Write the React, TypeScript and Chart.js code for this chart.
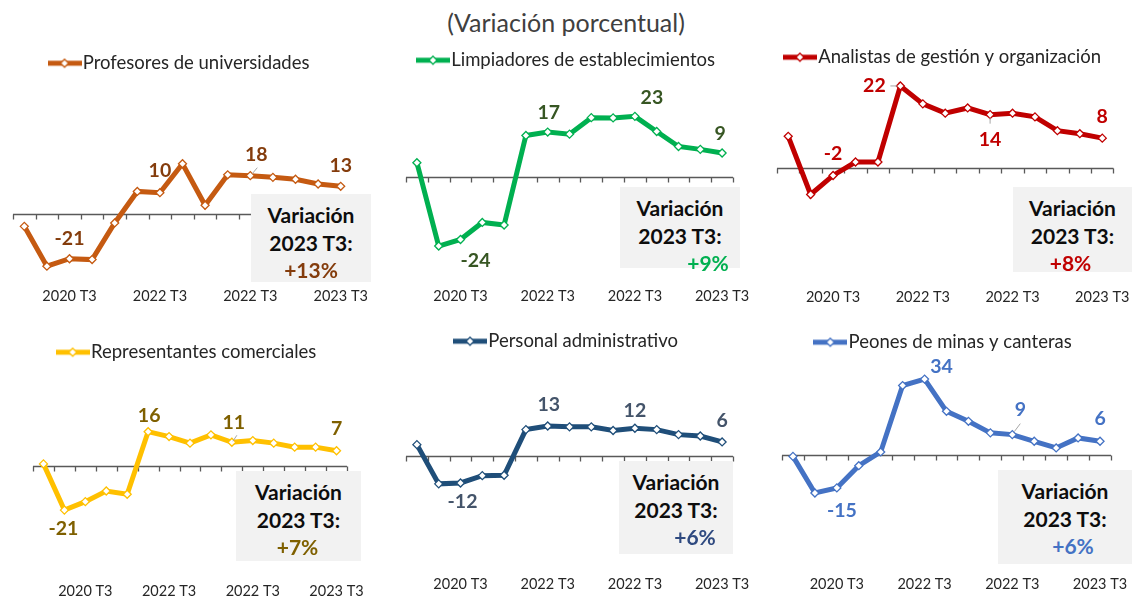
import React, { useEffect, useRef } from 'react';
import { Chart, registerables } from 'chart.js';

Chart.register(...registerables);

// ---------- DATA ----------
const quarterLabels = ['', '', '2020 T3', '', '', '', '2022 T3', '', '', '', '2022 T3', '', '', '', '2023 T3'];

const profesoresValues = [-5.8, -24.5, -21, -21.4, -4.2, 10.6, 10, 23.6, 4.1, 18.4, 18, 17.2, 16.3, 14.1, 13];
const limpiadoresValues = [5.3, -26.5, -24, -17.5, -18.5, 15.7, 17, 16.2, 22.5, 22.4, 23, 17.2, 11.5, 10.4, 9];
const analistasValues = [8.5, -7.1, -2, 1.6, 1.6, 22, 17.2, 14.7, 16.1, 14.3, 14.7, 13.7, 10, 9.2, 8];
const representantesValues = [0.8, -21, -17, -12, -13.5, 16, 13.7, 10.6, 14.5, 11, 11.8, 10.6, 8.7, 8.7, 7];
const administrativoValues = [4.8, -12.4, -12, -8.8, -8.6, 11.4, 13, 12.6, 12.6, 11, 12, 11.4, 9.2, 8.6, 6];
const peonesValues = [-0.8, -17.3, -15, -5, 1.2, 31.1, 34, 19.5, 15, 9.8, 9, 6, 3, 7.5, 6];

const seriesNames = [
  'Profesores de universidades',
  'Limpiadores de establecimientos',
  'Analistas de gestión y organización',
  'Representantes comerciales',
  'Personal administrativo',
  'Peones de minas y canteras',
];
const latestChange = ['+13%', '+9%', '+8%', '+7%', '+6%', '+6%'];
const labeledPoints = [
  [2, 6, 10, 14],
  [2, 6, 10, 14],
  [2, 5, 9, 14],
  [1, 5, 9, 14],
  [2, 6, 10, 14],
  [2, 6, 10, 14],
];
const titleText = '(Variación porcentual)';
const boxLine1 = 'Variación';
const boxLine2 = '2023 T3:';

// ---------- STYLE / LAYOUT ----------
const FONT = 'Lato, "Open Sans", sans-serif';
const LEGEND_SIZE = 18.5;

type Panel = {
  values: number[];
  color: string;
  labelColor: string;
  pctColor: string;
  left: number; top: number; width: number; labelY: number;
  padL: number; padR: number;
  zeroY: number; pxPerUnit: number;
  offsets: [number, number][];
  leaders: { idx: number; from: [number, number]; to: [number, number] }[];
  box: { left: number; top: number; w: number; h: number; pctShift: number };
};

const panels: Panel[] = [
  {
    values: profesoresValues, color: '#C55A11', labelColor: '#843C0C', pctColor: '#843C0C',
    left: 0, top: 44, width: 377, labelY: 297, padL: 13, padR: 25, zeroY: 214, pxPerUnit: 2.13,
    offsets: [[0, -20], [0, -22], [6, -21], [0, -21]],
    leaders: [{ idx: 10, from: [7, -8], to: [2, -2] }],
    box: { left: 251, top: 194, w: 120, h: 88, pctShift: 0 },
  },
  {
    values: limpiadoresValues, color: '#00B050', labelColor: '#375623', pctColor: '#00B050',
    left: 378, top: 41.4, width: 377, labelY: 297, padL: 28, padR: 22, zeroY: 177, pxPerUnit: 2.62,
    offsets: [[15, 21], [1, -19], [17, -19], [-2, -19]],
    leaders: [],
    box: { left: 620, top: 187, w: 120, h: 81, pctShift: 28 },
  },
  {
    values: analistasValues, color: '#C00000', labelColor: '#C00000', pctColor: '#C00000',
    left: 755, top: 38, width: 377, labelY: 298, padL: 22, padR: 17, zeroY: 168, pxPerUnit: 3.73,
    offsets: [[0, -22], [-26, 0], [0, 25], [0, -21]],
    leaders: [{ idx: 5, from: [-10, 0], to: [-3, 0] }, { idx: 9, from: [0, 3], to: [0, 9] }],
    box: { left: 1013, top: 187, w: 119, h: 85, pctShift: -2 },
  },
  {
    values: representantesValues, color: '#FFC000', labelColor: '#7F6000', pctColor: '#7F6000',
    left: 0, top: 333.4, width: 377, labelY: 592, padL: 33, padR: 30, zeroY: 466, pxPerUnit: 2.12,
    offsets: [[-1, 19], [1, -16], [2, -20], [0, -22]],
    leaders: [{ idx: 9, from: [5, -7], to: [1, -1] }],
    box: { left: 236, top: 471, w: 125, h: 90, pctShift: -1 },
  },
  {
    values: administrativoValues, color: '#1F4E79', labelColor: '#44546A', pctColor: '#2F4A80',
    left: 378, top: 322.4, width: 377, labelY: 585, padL: 28, padR: 22, zeroY: 456, pxPerUnit: 2.28,
    offsets: [[2, 19], [1, -21], [0, -18], [0, -21]],
    leaders: [],
    box: { left: 619, top: 461, w: 114, h: 93, pctShift: 19 },
  },
  {
    values: peonesValues, color: '#4472C4', labelColor: '#4472C4', pctColor: '#4472C4',
    left: 755, top: 323.4, width: 377, labelY: 585, padL: 27, padR: 21, zeroY: 455, pxPerUnit: 2.22,
    offsets: [[5, 23], [17, -12], [8, -25], [0, -23]],
    leaders: [{ idx: 10, from: [8, -11], to: [2, -3] }],
    box: { left: 998, top: 470, w: 134, h: 94, pctShift: 8 },
  },
];

function makeMarker(color: string): HTMLCanvasElement {
  const c = document.createElement('canvas');
  c.width = 34;
  c.height = 12;
  const g = c.getContext('2d')!;
  g.strokeStyle = color;
  g.lineWidth = 5;
  g.beginPath();
  g.moveTo(0, 6);
  g.lineTo(34, 6);
  g.stroke();
  g.fillStyle = '#ffffff';
  g.lineWidth = 1.3;
  g.beginPath();
  g.moveTo(17, 2);
  g.lineTo(21, 6);
  g.lineTo(17, 10);
  g.lineTo(13, 6);
  g.closePath();
  g.fill();
  g.stroke();
  return c;
}

function ChartPanel({ idx }: { idx: number }) {
  const ref = useRef<HTMLCanvasElement | null>(null);
  const p = panels[idx];
  const height = Math.round(p.labelY - p.top + 12);

  useEffect(() => {
    if (!ref.current) return;
    const marker = makeMarker(p.color);
    const labeled = labeledPoints[idx];

    const zeroAxis = {
      id: 'zeroAxis',
      beforeDatasetsDraw(chart: any) {
        const xs = chart.scales.x;
        const ys = chart.scales.y;
        const ctx = chart.ctx;
        const y0 = Math.round(ys.getPixelForValue(0)) + 0.5;
        const n = chart.data.labels.length;
        ctx.save();
        ctx.strokeStyle = '#595959';
        ctx.lineWidth = 1.3;
        ctx.beginPath();
        ctx.moveTo(xs.getPixelForValue(-0.5), y0);
        ctx.lineTo(xs.getPixelForValue(n - 0.5), y0);
        for (let i = 0; i <= n; i++) {
          const x = Math.round(xs.getPixelForValue(i - 0.5)) + 0.5;
          ctx.moveTo(x, y0);
          ctx.lineTo(x, y0 + 5);
        }
        ctx.stroke();
        ctx.restore();
      },
    };

    const dataLabels = {
      id: 'dataLabels',
      afterDatasetsDraw(chart: any) {
        const meta = chart.getDatasetMeta(0);
        const ctx = chart.ctx;
        ctx.save();
        ctx.strokeStyle = '#A6A6A6';
        ctx.lineWidth = 1;
        p.leaders.forEach((l) => {
          const el = meta.data[l.idx];
          ctx.beginPath();
          ctx.moveTo(el.x + l.from[0], el.y + l.from[1]);
          ctx.lineTo(el.x + l.to[0], el.y + l.to[1]);
          ctx.stroke();
        });
        ctx.font = `bold 19.5px ${FONT}`;
        ctx.fillStyle = p.labelColor;
        ctx.textAlign = 'center';
        ctx.textBaseline = 'middle';
        labeled.forEach((i, k) => {
          const el = meta.data[i];
          const [dx, dy] = p.offsets[k];
          ctx.fillText(String(Math.round(p.values[i])), el.x + dx, el.y + dy);
        });
        ctx.restore();
      },
    };

    const chart = new Chart(ref.current, {
      type: 'line',
      data: {
        labels: quarterLabels,
        datasets: [
          {
            label: seriesNames[idx],
            data: p.values,
            borderColor: p.color,
            borderWidth: 5,
            backgroundColor: '#ffffff',
            pointStyle: 'rectRot',
            pointRadius: 4,
            pointBorderWidth: 1.3,
            pointBackgroundColor: '#ffffff',
            pointBorderColor: p.color,
            tension: 0,
            clip: false,
          } as any,
        ],
      },
      options: {
        responsive: false,
        animation: false,
        layout: { padding: { left: p.padL, right: p.padR, top: 0, bottom: 2 } },
        plugins: {
          legend: {
            display: true,
            position: 'top',
            labels: {
              usePointStyle: true,
              pointStyleWidth: 18,
              boxHeight: 12,
              padding: 10,
              color: '#262626',
              font: { family: FONT, size: LEGEND_SIZE },
              generateLabels: () => [
                {
                  text: seriesNames[idx],
                  pointStyle: marker,
                  fillStyle: p.color,
                  strokeStyle: p.color,
                  lineWidth: 0,
                  fontColor: '#262626',
                  hidden: false,
                  datasetIndex: 0,
                } as any,
              ],
            },
          },
          tooltip: { enabled: false },
        },
        scales: {
          x: {
            type: 'category',
            offset: true,
            grid: { display: false, drawTicks: false },
            border: { display: false },
            ticks: {
              autoSkip: false,
              maxRotation: 0,
              padding: 2,
              color: '#262626',
              font: { family: FONT, size: 14.5 },
            },
          },
          y: {
            display: false,
            min: -40,
            max: 40,
          },
        },
      },
      plugins: [zeroAxis, dataLabels],
    });

    const ca = chart.chartArea;
    const zeroRel = p.zeroY - p.top;
    (chart.options.scales as any).y.min = -(ca.bottom - zeroRel) / p.pxPerUnit;
    (chart.options.scales as any).y.max = (zeroRel - ca.top) / p.pxPerUnit;
    chart.update('none');

    return () => chart.destroy();
  }, [idx]);

  const b = p.box;
  return (
    <>
      <canvas
        ref={ref}
        width={p.width}
        height={height}
        style={{ position: 'absolute', left: p.left, top: p.top, width: p.width, height }}
      />
      <div
        style={{
          position: 'absolute',
          left: b.left,
          top: b.top,
          width: b.w,
          height: b.h,
          background: '#F2F2F2',
          fontFamily: FONT,
          fontWeight: 700,
          fontSize: 21,
          lineHeight: '27.5px',
          textAlign: 'center',
          color: '#0D0D0D',
          paddingTop: 7,
          boxSizing: 'border-box',
          whiteSpace: 'nowrap',
        }}
      >
        <div>{boxLine1}</div>
        <div>{boxLine2}</div>
        <div style={{ color: p.pctColor, position: 'relative', left: b.pctShift }}>{latestChange[idx]}</div>
      </div>
    </>
  );
}

export default function App() {
  return (
    <div
      style={{
        position: 'fixed',
        left: 0,
        top: 0,
        width: 1132,
        height: 597,
        overflow: 'hidden',
        background: '#ffffff',
      }}
    >
      <div
        style={{
          position: 'absolute',
          left: 0,
          top: 7,
          width: 1132,
          textAlign: 'center',
          fontFamily: FONT,
          fontSize: 25,
          lineHeight: '30px',
          color: '#404040',
        }}
      >
        {titleText}
      </div>
      {panels.map((_, i) => (
        <ChartPanel key={i} idx={i} />
      ))}
    </div>
  );
}
